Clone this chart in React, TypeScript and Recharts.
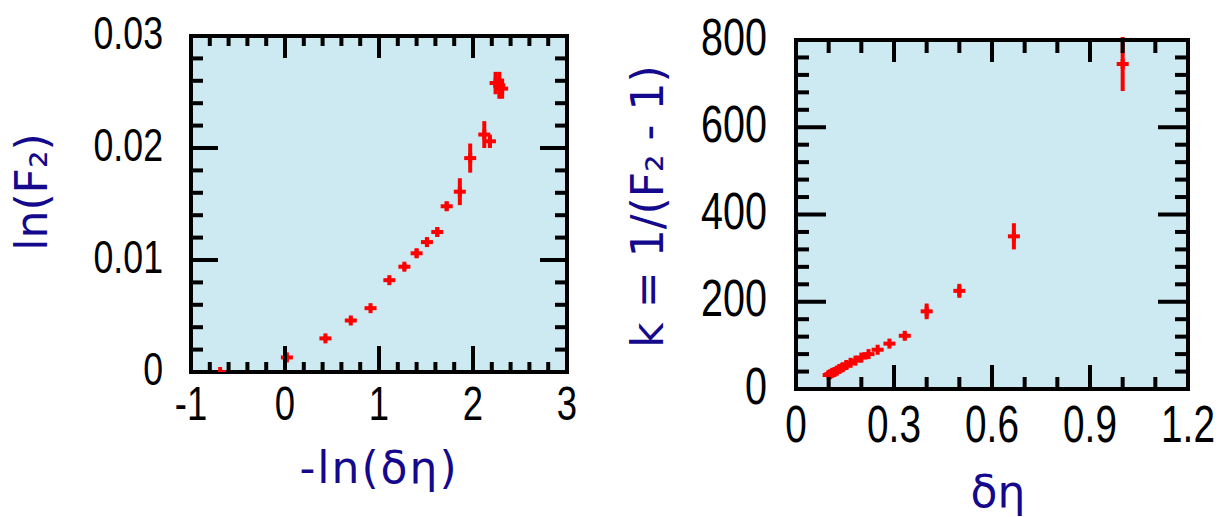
import React from 'react';
import { ScatterChart, Scatter, XAxis, YAxis, ErrorBar, CartesianGrid, Label } from 'recharts';

// ---------- data ----------
const leftX = [-0.69, 0.02, 0.43, 0.7, 0.91, 1.11, 1.27, 1.4, 1.51, 1.62, 1.72, 1.86, 1.97, 2.12, 2.18, 2.24, 2.28, 2.31];
const leftY = [0.0, 0.0013, 0.003, 0.0046, 0.0057, 0.0082, 0.0094, 0.0106, 0.0116, 0.0125, 0.0148, 0.0161, 0.0191, 0.0212, 0.0206, 0.0258, 0.0256, 0.0253];
const leftErr = [0.0001, 0.0002, 0.0002, 0.0002, 0.0002, 0.0002, 0.0003, 0.0004, 0.0004, 0.0004, 0.0004, 0.0012, 0.0013, 0.0012, 0.0006, 0.001, 0.0012, 0.0009];

const rightX = [1.0, 0.667, 0.5, 0.4, 0.333, 0.286, 0.25, 0.222, 0.2, 0.182, 0.167, 0.154, 0.143, 0.133, 0.125, 0.118, 0.111, 0.105, 0.1];
const rightY = [745, 350, 225, 178, 122, 104, 90, 80, 72, 65, 60, 55, 50, 46, 42, 39, 37, 34, 32];
const rightErr = [62, 30, 16, 18, 8, 4, 4, 3, 3, 3, 3, 3, 3, 3, 3, 3, 3, 3, 3];

// ticks
const leftXTicks = [-1, -0.8, -0.6, -0.4, -0.2, 0, 0.2, 0.4, 0.6, 0.8, 1, 1.2, 1.4, 1.6, 1.8, 2, 2.2, 2.4, 2.6, 2.8, 3];
const leftXMajor = [-1, 0, 1, 2, 3];
const leftXLabels = ['-1', '0', '1', '2', '3'];
const leftYTicks = [0, 0.002, 0.004, 0.006, 0.008, 0.01, 0.012, 0.014, 0.016, 0.018, 0.02, 0.022, 0.024, 0.026, 0.028, 0.03];
const leftYMajor = [0, 0.01, 0.02, 0.03];
const leftYLabels = ['0', '0.01', '0.02', '0.03'];

const rightXTicks = [0, 0.1, 0.2, 0.3, 0.4, 0.5, 0.6, 0.7, 0.8, 0.9, 1.0, 1.1, 1.2];
const rightXMajor = [0, 0.3, 0.6, 0.9, 1.2];
const rightXLabels = ['0', '0.3', '0.6', '0.9', '1.2'];
const rightYTicks = [0, 40, 80, 120, 160, 200, 240, 280, 320, 360, 400, 440, 480, 520, 560, 600, 640, 680, 720, 760, 800];
const rightYMajor = [0, 200, 400, 600, 800];
const rightYLabels = ['0', '200', '400', '600', '800'];

const leftData = leftX.map((x, i) => ({ x, y: leftY[i], err: leftErr[i] }));
const rightData = rightX.map((x, i) => ({ x, y: rightY[i], err: rightErr[i] }));

// ---------- styles ----------
const BG = '#cde9f1';
const RED = '#ff0000';
const NAVY = '#14088c';
const TICK_FONT = '"Liberation Sans", Arial, sans-serif';
const LABEL_FONT = '"DejaVu Sans", sans-serif';
const SQUEEZE = 0.76;

type Side = 'bottom' | 'top' | 'left' | 'right';

function makeTick(side: Side, majors: number[], labels: string[], minorLen: number, majorLen: number, fontSize: number, gap: number) {
  return (props: any) => {
    const { x, y, payload } = props;
    const v = payload.value;
    const idx = majors.findIndex((m) => Math.abs(m - v) < 1e-9);
    const isMajor = idx >= 0;
    const len = isMajor ? majorLen : minorLen;
    let x2 = x, y2 = y;
    if (side === 'bottom') y2 = y - len;
    if (side === 'top') y2 = y + len;
    if (side === 'left') x2 = x + len;
    if (side === 'right') x2 = x - len;
    let label = null;
    if (isMajor && side === 'bottom') {
      label = (
        <text transform={`translate(${x}, ${y + gap}) scale(${SQUEEZE}, 1)`} x={0} y={0} textAnchor="middle" fontSize={fontSize} fontFamily={TICK_FONT} fill="#000">
          {labels[idx]}
        </text>
      );
    }
    if (isMajor && side === 'left') {
      label = (
        <text transform={`translate(${x - gap}, ${y + fontSize * 0.28}) scale(${SQUEEZE}, 1)`} x={0} y={0} textAnchor="end" fontSize={fontSize} fontFamily={TICK_FONT} fill="#000">
          {labels[idx]}
        </text>
      );
    }
    return (
      <g>
        <line x1={x} y1={y} x2={x2} y2={y2} stroke="#000" strokeWidth={4} />
        {label}
      </g>
    );
  };
}

const crossShape = (props: any) => {
  const { cx, cy } = props;
  if (cx == null || cy == null) return <g />;
  return (
    <g>
      <line x1={cx - 6} y1={cy} x2={cx + 6} y2={cy} stroke={RED} strokeWidth={4} />
      <line x1={cx} y1={cy - 5} x2={cx} y2={cy + 5} stroke={RED} strokeWidth={4} />
    </g>
  );
};

const axisLine = { stroke: '#000', strokeWidth: 4, strokeLinecap: 'square' as const };

function LeftChart() {
  return (
    <ScatterChart width={600} height={517} margin={{ top: 33, right: 30, bottom: 45, left: 0 }}>
      <CartesianGrid fill={BG} stroke="none" horizontal={false} vertical={false} xAxisId="b" yAxisId="l" />
      <XAxis xAxisId="b" dataKey="x" type="number" domain={[-1, 3]} ticks={leftXTicks} interval={0} orientation="bottom"
        height={100} tickLine={false} tickSize={0} tickMargin={0} axisLine={axisLine}
        tick={makeTick('bottom', leftXMajor, leftXLabels, 10, 26, 48, 48)} allowDataOverflow>
        <Label content={(p: any) => {
          const vb = p.viewBox;
          return (
            <text x={vb.x + vb.width / 2} y={vb.y + 111} textAnchor="middle" fontSize={44} fontFamily={LABEL_FONT} fill={NAVY} letterSpacing={2}>
              -ln(δη)
            </text>
          );
        }} />
      </XAxis>
      <XAxis xAxisId="t" dataKey="x" type="number" domain={[-1, 3]} ticks={leftXTicks} interval={0} orientation="top"
        height={3} tickLine={false} tickSize={0} tickMargin={0} axisLine={axisLine}
        tick={makeTick('top', leftXMajor, leftXLabels, 10, 22, 48, 48)} allowDataOverflow />
      <YAxis yAxisId="l" dataKey="y" type="number" domain={[0, 0.03]} ticks={leftYTicks} interval={0} orientation="left"
        width={191} tickLine={false} tickSize={0} tickMargin={0} axisLine={axisLine}
        tick={makeTick('left', leftYMajor, leftYLabels, 12, 27, 47, 28)} allowDataOverflow>
        <Label content={(p: any) => {
          const vb = p.viewBox;
          const cx = vb.x + 47;
          const cy = vb.y + vb.height / 2 - 12;
          return (
            <text x={cx} y={cy} transform={`rotate(-90, ${cx}, ${cy})`} textAnchor="middle" fontSize={44} fontFamily={LABEL_FONT} fill={NAVY}>
              ln(F₂)
            </text>
          );
        }} />
      </YAxis>
      <YAxis yAxisId="r" dataKey="y" type="number" domain={[0, 0.03]} ticks={leftYTicks} interval={0} orientation="right"
        width={3} tickLine={false} tickSize={0} tickMargin={0} axisLine={axisLine}
        tick={makeTick('right', leftYMajor, leftYLabels, 12, 27, 47, 28)} allowDataOverflow />
      <Scatter data={leftData} xAxisId="b" yAxisId="l" isAnimationActive={false} shape={crossShape}>
        <ErrorBar dataKey="err" direction="y" width={0} stroke={RED} strokeWidth={4} isAnimationActive={false} />
      </Scatter>
    </ScatterChart>
  );
}

function RightChart() {
  return (
    <ScatterChart width={625} height={517} margin={{ top: 37, right: 34, bottom: 28, left: 0 }}>
      <CartesianGrid fill={BG} stroke="none" horizontal={false} vertical={false} xAxisId="b" yAxisId="l" />
      <XAxis xAxisId="b" dataKey="x" type="number" domain={[0, 1.2]} ticks={rightXTicks} interval={0} orientation="bottom"
        height={100} tickLine={false} tickSize={0} tickMargin={0} axisLine={axisLine}
        tick={makeTick('bottom', rightXMajor, rightXLabels, 12, 24, 51, 53)} allowDataOverflow>
        <Label content={(p: any) => {
          const vb = p.viewBox;
          return (
            <text x={vb.x + vb.width / 2 + 6} y={vb.y + 118} textAnchor="middle" fontSize={44} fontFamily={LABEL_FONT} fill={NAVY}>
              δη
            </text>
          );
        }} />
      </XAxis>
      <XAxis xAxisId="t" dataKey="x" type="number" domain={[0, 1.2]} ticks={rightXTicks} interval={0} orientation="top"
        height={3} tickLine={false} tickSize={0} tickMargin={0} axisLine={axisLine}
        tick={makeTick('top', rightXMajor, rightXLabels, 13, 22, 51, 52)} allowDataOverflow />
      <YAxis yAxisId="l" dataKey="y" type="number" domain={[0, 800]} ticks={rightYTicks} interval={0} orientation="left"
        width={196} tickLine={false} tickSize={0} tickMargin={0} axisLine={axisLine}
        tick={makeTick('left', rightYMajor, rightYLabels, 13, 30, 52, 29)} allowDataOverflow>
        <Label content={(p: any) => {
          const vb = p.viewBox;
          const cx = vb.x + 63;
          const cy = vb.y + vb.height / 2 - 8;
          return (
            <text x={cx} y={cy} transform={`rotate(-90, ${cx}, ${cy})`} textAnchor="middle" fontSize={44} fontFamily={LABEL_FONT} fill={NAVY}>
              k = 1/(F₂ - 1)
            </text>
          );
        }} />
      </YAxis>
      <YAxis yAxisId="r" dataKey="y" type="number" domain={[0, 800]} ticks={rightYTicks} interval={0} orientation="right"
        width={3} tickLine={false} tickSize={0} tickMargin={0} axisLine={axisLine}
        tick={makeTick('right', rightYMajor, rightYLabels, 13, 30, 52, 29)} allowDataOverflow />
      <Scatter data={rightData} xAxisId="b" yAxisId="l" isAnimationActive={false} shape={crossShape}>
        <ErrorBar dataKey="err" direction="y" width={0} stroke={RED} strokeWidth={4} isAnimationActive={false} />
      </Scatter>
    </ScatterChart>
  );
}

export default function App() {
  return (
    <div style={{ position: 'absolute', left: 0, top: 0, width: 1225, height: 517, background: '#fff', overflow: 'hidden' }}>
      <div style={{ position: 'absolute', left: 0, top: 0 }}>
        <LeftChart />
      </div>
      <div style={{ position: 'absolute', left: 600, top: 0 }}>
        <RightChart />
      </div>
    </div>
  );
}
